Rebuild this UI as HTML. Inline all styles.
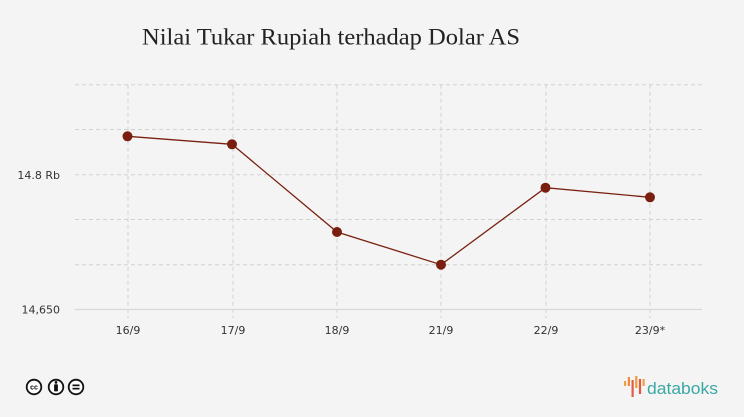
<!DOCTYPE html>
<html><head><meta charset="utf-8"><style>
html,body{margin:0;padding:0;background:#f4f4f4;}
svg{display:block;}
</style></head><body>
<svg width="744" height="417" viewBox="0 0 744 417" xmlns="http://www.w3.org/2000/svg">
<rect width="744" height="417" fill="#f4f4f4"/>
<text x="331" y="44.5" text-anchor="middle" font-family="Liberation Serif, serif" font-size="23" fill="#222" textLength="378" lengthAdjust="spacingAndGlyphs">Nilai Tukar Rupiah terhadap Dolar AS</text>
<g stroke="#d2d2d2" stroke-width="1" stroke-dasharray="4,3" fill="none">
<line x1="75" y1="84.7" x2="702" y2="84.7"/>
<line x1="75" y1="129.5" x2="702" y2="129.5"/>
<line x1="75" y1="174.7" x2="702" y2="174.7"/>
<line x1="75" y1="219.5" x2="702" y2="219.5"/>
<line x1="75" y1="264.7" x2="702" y2="264.7"/>
<line x1="128" y1="84.7" x2="128" y2="318"/>
<line x1="233" y1="84.7" x2="233" y2="318"/>
<line x1="337" y1="84.7" x2="337" y2="318"/>
<line x1="441" y1="84.7" x2="441" y2="318"/>
<line x1="546" y1="84.7" x2="546" y2="318"/>
<line x1="650" y1="84.7" x2="650" y2="318"/>
</g>
<line x1="75" y1="309.5" x2="702" y2="309.5" stroke="#d8d8d8" stroke-width="1.2"/>
<g font-family="DejaVu Sans, Liberation Sans, sans-serif" font-size="11" fill="#333">
<text x="60" y="179" text-anchor="end">14.8 Rb</text>
<text x="60" y="313.5" text-anchor="end">14,650</text>
<g text-anchor="middle">
<text x="128" y="334">16/9</text>
<text x="233" y="334">17/9</text>
<text x="337" y="334">18/9</text>
<text x="441" y="334">21/9</text>
<text x="546" y="334">22/9</text>
<text x="650" y="334">23/9*</text>
</g>
</g>
<polyline points="127.5,136.3 232,144.3 337,232 441,264.7 545.5,187.7 650,197.3" fill="none" stroke="#7a2211" stroke-width="1.3"/>
<g fill="#7a1f0f">
<circle cx="127.5" cy="136.3" r="5"/>
<circle cx="232" cy="144.3" r="5"/>
<circle cx="337" cy="232" r="5"/>
<circle cx="441" cy="264.7" r="5"/>
<circle cx="545.5" cy="187.7" r="5"/>
<circle cx="650" cy="197.3" r="5"/>
</g>
<!-- CC icons -->
<g fill="#fff" stroke="#111" stroke-width="1.8">
<circle cx="34" cy="387" r="7.3"/>
<circle cx="56" cy="387" r="7.3"/>
<circle cx="76" cy="387" r="7.3"/>
</g>
<text x="34" y="389.5" text-anchor="middle" font-family="Liberation Sans, sans-serif" font-size="7" font-weight="bold" fill="#111">cc</text>
<g fill="#111">
<circle cx="56" cy="382.4" r="1.4"/>
<rect x="54.1" y="384.2" width="3.8" height="7.2" rx="0.8"/>
<rect x="72.5" y="384.5" width="7" height="1.7"/>
<rect x="72.5" y="387.8" width="7" height="1.7"/>
</g>
<!-- databoks logo -->
<g>
<rect x="624" y="381" width="2.2" height="5" fill="#f0a043"/>
<rect x="627.8" y="377" width="2.2" height="9" fill="#ef8a3c"/>
<rect x="631.5" y="380" width="2.2" height="17" fill="#e25b45"/>
<rect x="635.2" y="376" width="2.2" height="12" fill="#f29a3a"/>
<rect x="638.9" y="379" width="2.2" height="15" fill="#e5553f"/>
<rect x="642.5" y="379" width="2.2" height="7" fill="#f0a043"/>
</g>
<text x="647" y="394" font-family="Liberation Sans, sans-serif" font-size="17" fill="#3aa9a4" textLength="71" lengthAdjust="spacingAndGlyphs">databoks</text>
</svg>
</body></html>
